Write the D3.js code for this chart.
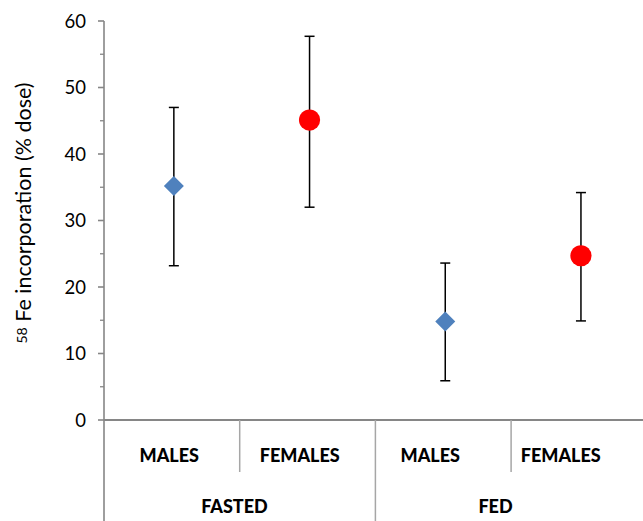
<!DOCTYPE html>
<html>
<head>
<meta charset="utf-8">
<script src="https://cdn.jsdelivr.net/npm/d3@7"></script>
<style>
  body { margin: 0; background: #fff; }
  text { font-family: Lato, "Open Sans", sans-serif; fill: #000; }
</style>
</head>
<body>
<div id="chart"></div>
<script>
// chart data
const categories = ['fasted-m', 'fasted-f', 'fed-m', 'fed-f'];
const sexLabels = ['MALES', 'FEMALES', 'MALES', 'FEMALES'];
const groups = ['FASTED', 'FED'];
const means = [35.2, 45.1, 14.8, 24.7];
const upper = [47.0, 57.7, 23.6, 34.2];
const lower = [23.2, 32.0, 5.9, 14.9];
const shapes = ['diamond', 'circle', 'diamond', 'circle'];
const yTicks = [0, 10, 20, 30, 40, 50, 60];

function draw () {
  const svgWidth = 643;
  const svgHeight = 521;
  const axisX = 104;
  const top = 21;
  const baseY = 420;
  const catWidth = 135.7;

  const svg = d3.select('#chart')
    .append('svg')
    .attr('width', svgWidth)
    .attr('height', svgHeight);

  const y = d3.scaleLinear().domain([0, 60]).range([baseY, top]);
  const x = d3.scaleBand().domain(categories).range([axisX, axisX + catWidth * categories.length]);
  // Excel puts the labels on a slightly narrower grid than the marks
  const xLabel = d3.scaleBand().domain(categories).range([axisX, axisX + 130.5 * categories.length]);
  const gLabel = d3.scaleBand().domain(groups).range([axisX, axisX + 130.5 * categories.length]);

  // y axis
  const axisColor = '#868686';
  svg.append('line')
    .attr('x1', axisX).attr('x2', axisX)
    .attr('y1', top).attr('y2', svgHeight)
    .attr('stroke', axisColor).attr('stroke-width', 1.6);

  const minor = d3.range(5, 60, 10);
  svg.selectAll('.minor')
    .data(minor)
    .enter().append('line')
    .attr('x1', axisX - 4).attr('x2', axisX)
    .attr('y1', d => y(d)).attr('y2', d => y(d))
    .attr('stroke', axisColor).attr('stroke-width', 1.3);

  svg.selectAll('.major')
    .data(yTicks)
    .enter().append('line')
    .attr('x1', axisX - 6).attr('x2', axisX)
    .attr('y1', d => y(d)).attr('y2', d => y(d))
    .attr('stroke', axisColor).attr('stroke-width', 1.6);

  svg.selectAll('.ylab')
    .data(yTicks)
    .enter().append('text')
    .attr('x', 86)
    .attr('y', d => y(d))
    .attr('dy', '0.36em')
    .attr('text-anchor', 'end')
    .style('font-size', '18.5px')
    .text(d => d);

  // axis title
  const title = svg.append('text')
    .attr('transform', 'translate(31, 213) rotate(-90)')
    .attr('text-anchor', 'middle')
    .style('font-size', '21.5px');
  title.append('tspan')
    .attr('baseline-shift', '30%')
    .style('font-size', '14px')
    .text('58');
  title.append('tspan').text(' Fe incorporation (% dose)');

  // x axis
  svg.append('line')
    .attr('x1', axisX).attr('x2', svgWidth)
    .attr('y1', baseY).attr('y2', baseY)
    .attr('stroke', axisColor).attr('stroke-width', 1.8);

  svg.selectAll('.sep')
    .data(categories.slice(1))
    .enter().append('line')
    .attr('x1', d => x(d)).attr('x2', d => x(d))
    .attr('y1', baseY)
    .attr('y2', (d, i) => i === 1 ? svgHeight : 472)
    .attr('stroke', '#a6a6a6').attr('stroke-width', 1.5);

  svg.selectAll('.catlab')
    .data(categories)
    .enter().append('text')
    .attr('x', d => xLabel(d) + xLabel.bandwidth() / 2)
    .attr('y', 462)
    .attr('text-anchor', 'middle')
    .style('font-size', '18px')
    .style('font-weight', '900')
    .text((d, i) => sexLabels[i]);

  svg.selectAll('.grplab')
    .data(groups)
    .enter().append('text')
    .attr('x', d => gLabel(d) + gLabel.bandwidth() / 2)
    .attr('y', 513)
    .attr('text-anchor', 'middle')
    .style('font-size', '18px')
    .style('font-weight', '900')
    .text(d => d);

  // error bars
  const cx = (d, i) => x(categories[i]) + x.bandwidth() / 2 + 2;
  const bars = svg.selectAll('.err')
    .data(means)
    .enter().append('g');
  bars.append('line')
    .attr('x1', cx).attr('x2', cx)
    .attr('y1', (d, i) => y(upper[i]))
    .attr('y2', (d, i) => y(lower[i]))
    .attr('stroke', '#000').attr('stroke-width', 1.5);
  bars.append('line')
    .attr('x1', (d, i) => cx(d, i) - 5).attr('x2', (d, i) => cx(d, i) + 5)
    .attr('y1', (d, i) => y(upper[i])).attr('y2', (d, i) => y(upper[i]))
    .attr('stroke', '#000').attr('stroke-width', 1.5);
  bars.append('line')
    .attr('x1', (d, i) => cx(d, i) - 5).attr('x2', (d, i) => cx(d, i) + 5)
    .attr('y1', (d, i) => y(lower[i])).attr('y2', (d, i) => y(lower[i]))
    .attr('stroke', '#000').attr('stroke-width', 1.5);

  // markers
  const diamond = d3.symbol().type(d3.symbolSquare).size(200);
  svg.selectAll('.mark')
    .data(means)
    .enter().append('path')
    .attr('d', (d, i) => shapes[i] === 'circle'
      ? d3.symbol().type(d3.symbolCircle).size(Math.PI * 10.6 * 10.6)()
      : diamond())
    .attr('transform', (d, i) => `translate(${cx(d, i)}, ${y(d)})` + (shapes[i] === 'diamond' ? ' rotate(45)' : ''))
    .attr('fill', (d, i) => shapes[i] === 'circle' ? '#ff0000' : '#4f81bd');
}
draw();
</script>
</body>
</html>
